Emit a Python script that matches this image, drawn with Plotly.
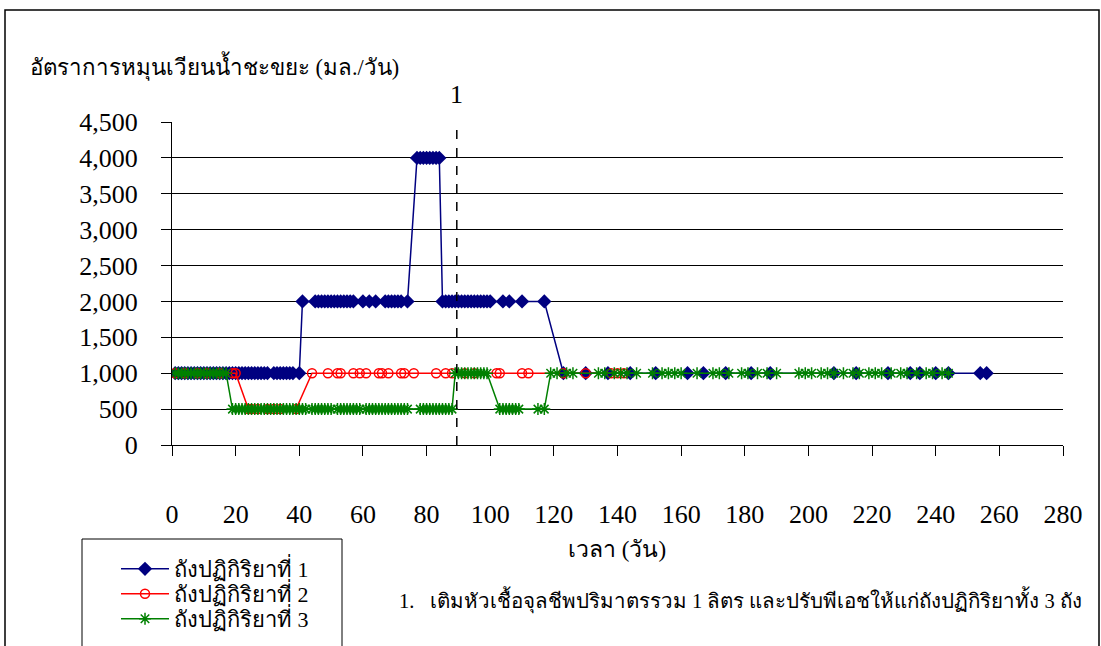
import plotly.graph_objects as go

# ---------------- data ----------------
series_names = ["ถังปฏิกิริยาที่ 1", "ถังปฏิกิริยาที่ 2", "ถังปฏิกิริยาที่ 3"]

days_1 = [1, 2, 3, 4, 5, 6, 7, 8, 9, 10, 11, 12, 13, 14, 15, 16, 17, 18, 19, 20,
          21, 22, 23, 24, 25, 26, 27, 28, 29, 30, 32, 33, 34, 35, 36, 37, 38, 40,
          41, 45, 46, 47, 48, 49, 50, 51, 52, 53, 54, 55, 56, 57, 60, 62, 64,
          67, 68, 69, 70, 71, 72, 74,
          77, 78, 79, 80, 81, 82, 83, 84,
          85, 86, 87, 88, 89, 90, 91, 92, 93, 94, 95, 96, 97, 98, 99, 100,
          104, 106, 110, 117,
          123, 130, 137, 144, 152, 162, 167, 174, 182, 188, 208, 215, 225, 232,
          235, 240, 244, 254, 256]
rate_1 = ([1000] * 38 + [2000] * 24 + [4000] * 8 + [2000] * 20 + [1000] * 19)

days_2 = [1, 4, 8, 11, 15, 19, 20,
          24, 25, 27, 30, 32, 34, 39,
          44, 49, 52, 53, 57, 59, 61, 65, 66, 68, 72, 73, 76, 83, 86, 88, 92, 95,
          102, 103, 110, 112, 123, 130, 138, 140, 142]
rate_2 = [1000] * 7 + [500] * 7 + [1000] * 27

days_3 = [1, 2, 3, 4, 5, 6, 7, 8, 9, 10, 11, 12, 13, 14, 15, 16, 17,
          19, 20, 21, 22, 23, 24, 25, 26, 27, 28, 29, 30, 31, 32, 33, 34, 35, 36,
          37, 38, 39, 40, 41, 42, 44, 45, 46, 47, 48, 49, 50, 52, 53, 54, 55, 56,
          57, 58, 59, 61, 62, 63, 64, 65, 66, 67, 68, 69, 70, 71, 72, 73, 74,
          78, 79, 80, 81, 82, 83, 84, 85, 86,
          87, 88, 89, 90, 91, 92, 93, 94, 95, 96, 97,
          98, 99, 103, 104, 105, 106, 107, 108, 109,
          115, 117, 119, 121, 124, 126, 134, 136, 139, 141, 143, 146, 151, 154,
          156, 158, 160, 165, 170, 172, 175, 179, 181, 184, 187, 190, 197, 199,
          201, 204, 206, 208, 211, 214, 216, 219, 221, 223, 226, 229, 231, 234,
          237, 239, 242, 244]
rate_3 = [1000] * 17 + [500] * 64 + [1000] * 11 + [500] * 9 + [1000] * 46

event_day = 89.5
event_label = "1"
note_text = "1.   เติมหัวเชื้อจุลชีพปริมาตรรวม 1 ลิตร และปรับพีเอชให้แก่ถังปฏิกิริยาทั้ง 3 ถัง"
y_title = "อัตราการหมุนเวียนน้ำชะขยะ (มล./วัน)"
x_title = "เวลา (วัน)"

FONT = "Liberation Serif, Times New Roman, serif"

# page body margin is removed by post_script below, so no offset
W, H = 1101, 646
L, T = 172, 122
R = W - 1063
B = H - 445
pw, ph = W - L - R, H - T - B


def px_x(p):
    return (p - L) / pw


def px_y(p):
    return (H - B - p) / ph


fig = go.Figure()
fig.add_trace(go.Scatter(
    x=days_1, y=rate_1, name=series_names[0], mode="lines+markers",
    legend="legend",
    line=dict(color="#000080", width=1.5),
    marker=dict(symbol="diamond", size=11, color="#000080")))
fig.add_trace(go.Scatter(
    x=days_2, y=rate_2, name=series_names[1], mode="lines+markers",
    legend="legend2",
    line=dict(color="#FF0000", width=1.5),
    marker=dict(symbol="circle-open", size=9, color="#FF0000",
                line=dict(width=1.5, color="#FF0000"))))
fig.add_trace(go.Scatter(
    x=days_3, y=rate_3, name=series_names[2], mode="lines+markers",
    legend="legend3",
    line=dict(color="#008000", width=1.5),
    marker=dict(symbol="asterisk-open", size=10, color="#008000",
                line=dict(width=1.5, color="#008000"))))

# event dashed line
fig.add_trace(go.Scatter(
    x=[event_day, event_day], y=[0, 4500], mode="lines", showlegend=False,
    line=dict(color="black", width=1.5, dash="dash"), hoverinfo="skip"))


def legend_at(ypix):
    return dict(x=px_x(116), y=px_y(ypix), xanchor="left", yanchor="middle",
                bgcolor="rgba(0,0,0,0)", borderwidth=0, itemwidth=48,
                font=dict(family=FONT, size=22, color="black"))


fig.update_layout(
    width=W, height=H,
    margin=dict(l=L, r=R, t=T, b=B, autoexpand=False),
    paper_bgcolor="white", plot_bgcolor="white",
    font=dict(family=FONT, size=26, color="black"),
    showlegend=True,
    legend=legend_at(569),
    legend2=legend_at(594),
    legend3=legend_at(619),
    xaxis=dict(range=[0, 280], dtick=20, tick0=0, showgrid=False,
               showline=True, linecolor="black", linewidth=1,
               ticks="outside", ticklen=10, tickcolor="black",
               ticklabelstandoff=36, zeroline=False, automargin=False,
               tickfont=dict(family=FONT, size=26)),
    yaxis=dict(range=[0, 4500], dtick=500, tickformat=",d",
               showgrid=True, gridcolor="black", gridwidth=1,
               showline=True, linecolor="black", linewidth=1,
               ticks="outside", ticklen=10, tickcolor="black",
               ticklabelstandoff=18, zeroline=False, automargin=False,
               tickfont=dict(family=FONT, size=26)),
    shapes=[
        dict(type="rect", xref="paper", yref="paper",
             x0=px_x(5), x1=px_x(1099), y0=px_y(720), y1=px_y(10),
             line=dict(color="black", width=1.5), fillcolor="rgba(0,0,0,0)",
             layer="below"),
        dict(type="rect", xref="paper", yref="paper",
             x0=px_x(82), x1=px_x(342), y0=px_y(720), y1=px_y(539),
             line=dict(color="black", width=1), fillcolor="rgba(0,0,0,0)"),
    ],
    annotations=[
        dict(text=y_title, xref="paper", yref="paper", x=px_x(28), y=px_y(66),
             xanchor="left", yanchor="middle", showarrow=False,
             font=dict(family=FONT, size=22.3)),
        dict(text=x_title, xref="paper", yref="paper", x=px_x(617), y=px_y(549),
             xanchor="center", yanchor="middle", showarrow=False,
             font=dict(family=FONT, size=23)),
        dict(text=event_label, xref="x", yref="paper", x=event_day, y=px_y(95),
             xanchor="center", yanchor="middle", showarrow=False,
             font=dict(family=FONT, size=26)),
        dict(text=note_text, xref="paper", yref="paper", x=px_x(397), y=px_y(600),
             xanchor="left", yanchor="middle", showarrow=False,
             font=dict(family=FONT, size=20.5)),
    ],
)

fig.write_html(
    "out.html",
    config={"displayModeBar": False},
    post_script="document.body.style.margin='0px';"
                "document.body.style.padding='0px';"
                "document.body.style.overflow='hidden';",
)
